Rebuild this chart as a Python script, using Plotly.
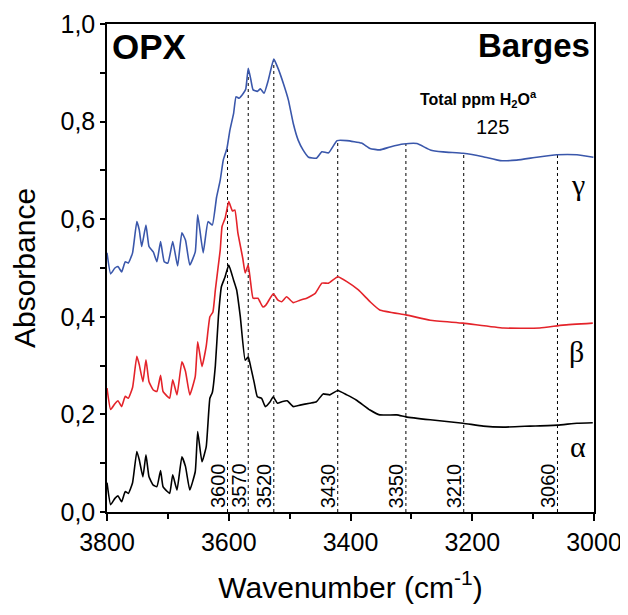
import numpy as np
import plotly.graph_objects as go

# ---------------- data ----------------
alpha_wn = [3800, 3794, 3787, 3782, 3776, 3770, 3765, 3758, 3751, 3747, 3741, 3736, 3731, 3724, 3718,
            3712, 3708, 3701, 3697, 3692, 3685, 3677, 3671, 3664, 3655, 3651, 3644, 3637, 3631, 3627,
            3622, 3617, 3612, 3606, 3600, 3592, 3587, 3581, 3573, 3568, 3564, 3558, 3553, 3546, 3540,
            3532, 3527, 3520, 3513, 3504, 3494, 3483, 3467, 3456, 3445, 3434, 3421, 3406, 3390, 3368,
            3352, 3324, 3309, 3269, 3215, 3182, 3149, 3105, 3060, 3028, 3002]
alpha_abs = [0.060, 0.015, 0.028, 0.033, 0.021, 0.042, 0.038, 0.060, 0.124, 0.107, 0.072, 0.117, 0.072, 0.055, 0.052,
             0.085, 0.052, 0.042, 0.038, 0.076, 0.045, 0.113, 0.093, 0.045, 0.083, 0.165, 0.103, 0.134, 0.233, 0.245,
             0.300, 0.400, 0.462, 0.482, 0.506, 0.475, 0.455, 0.400, 0.311, 0.318, 0.298, 0.264, 0.236, 0.233, 0.216,
             0.226, 0.236, 0.223, 0.226, 0.228, 0.216, 0.219, 0.223, 0.226, 0.242, 0.240, 0.249, 0.240, 0.229, 0.209,
             0.199, 0.199, 0.195, 0.189, 0.182, 0.176, 0.174, 0.176, 0.178, 0.182, 0.183]

beta_wn = [3800, 3794, 3787, 3782, 3776, 3770, 3765, 3758, 3751, 3747, 3741, 3736, 3731, 3724, 3718,
           3712, 3708, 3701, 3697, 3692, 3685, 3677, 3671, 3664, 3655, 3651, 3644, 3637, 3631, 3626,
           3622, 3618, 3614, 3611, 3606, 3600, 3594, 3590, 3585, 3577, 3573, 3568, 3564, 3560, 3552,
           3544, 3539, 3527, 3519, 3513, 3505, 3494, 3483, 3472, 3458, 3447, 3436, 3421, 3406, 3387,
           3368, 3352, 3309, 3269, 3215, 3149, 3089, 3051, 3002]
beta_abs = [0.254, 0.210, 0.222, 0.228, 0.216, 0.237, 0.233, 0.255, 0.319, 0.302, 0.267, 0.312, 0.267, 0.250, 0.247,
            0.280, 0.247, 0.237, 0.233, 0.271, 0.240, 0.308, 0.288, 0.240, 0.278, 0.349, 0.298, 0.340, 0.400, 0.410,
            0.455, 0.496, 0.537, 0.585, 0.602, 0.636, 0.617, 0.619, 0.572, 0.520, 0.490, 0.506, 0.470, 0.438, 0.438,
            0.420, 0.424, 0.447, 0.434, 0.431, 0.441, 0.429, 0.434, 0.438, 0.448, 0.469, 0.469, 0.482, 0.472, 0.455,
            0.431, 0.414, 0.404, 0.393, 0.387, 0.377, 0.377, 0.383, 0.387]

gamma_wn = [3800, 3794, 3787, 3782, 3776, 3770, 3765, 3758, 3751, 3747, 3743, 3736, 3731, 3724, 3718,
            3712, 3706, 3700, 3692, 3684, 3677, 3671, 3664, 3655, 3651, 3642, 3634, 3627, 3620, 3614,
            3609, 3603, 3598, 3592, 3588, 3583, 3576, 3572, 3568, 3564, 3560, 3553, 3548, 3542, 3535,
            3526, 3519, 3510, 3502, 3494, 3486, 3478, 3469, 3456, 3447, 3436, 3422, 3406, 3382, 3368,
            3352, 3335, 3313, 3291, 3269, 3248, 3215, 3182, 3154, 3127, 3094, 3061, 3028, 3001]
gamma_abs = [0.531, 0.488, 0.500, 0.503, 0.492, 0.513, 0.510, 0.531, 0.595, 0.578, 0.544, 0.588, 0.544, 0.533, 0.513,
             0.554, 0.513, 0.510, 0.554, 0.504, 0.572, 0.557, 0.506, 0.533, 0.609, 0.531, 0.595, 0.588, 0.645, 0.680,
             0.721, 0.745, 0.783, 0.817, 0.851, 0.848, 0.858, 0.867, 0.909, 0.888, 0.865, 0.862, 0.867, 0.858, 0.885,
             0.928, 0.909, 0.877, 0.844, 0.796, 0.762, 0.742, 0.727, 0.725, 0.738, 0.736, 0.761, 0.761, 0.756, 0.745,
             0.742, 0.748, 0.754, 0.755, 0.742, 0.738, 0.735, 0.728, 0.720, 0.721, 0.727, 0.732, 0.732, 0.727]

peak_pos = [3602, 3568, 3526, 3421, 3309, 3214, 3060]
peak_labels = ["3600", "3570", "3520", "3430", "3350", "3210", "3060"]

x_ticks = [3800, 3600, 3400, 3200, 3000]
x_ticktext = ["3800", "3600", "3400", "3200", "3000"]
x_minor = [3700, 3500, 3300, 3100]
y_ticks = [0.0, 0.2, 0.4, 0.6, 0.8, 1.0]
y_ticktext = ["0,0", "0,2", "0,4", "0,6", "0,8", "1,0"]
y_minor = [0.1, 0.3, 0.5, 0.7, 0.9]

FONT = "Liberation Sans, Arial, sans-serif"
SERIF = "Liberation Serif, Times New Roman, serif"

fig = go.Figure()

# dotted guide lines from the axis up to the gamma curve
g_order = np.argsort(gamma_wn)
for p in peak_pos:
    top = float(np.interp(p, np.array(gamma_wn)[g_order], np.array(gamma_abs)[g_order]))
    fig.add_trace(go.Scatter(x=[p, p], y=[0, top], mode="lines",
                             line=dict(color="black", width=1, dash="dot"),
                             showlegend=False, hoverinfo="skip"))

for wn, ab, col, name in [(alpha_wn, alpha_abs, "#000000", "α"),
                          (beta_wn, beta_abs, "#e4232a", "β"),
                          (gamma_wn, gamma_abs, "#3a57ab", "γ")]:
    fig.add_trace(go.Scatter(x=wn, y=ab, mode="lines", name=name,
                             line=dict(color=col, width=1.6, shape="spline", smoothing=0.4),
                             showlegend=False))

ann = []
for p, t in zip(peak_pos, peak_labels):
    ann.append(dict(x=p, y=0.004, xref="x", yref="y", text=t, textangle=-90,
                    showarrow=False, xanchor="right", yanchor="bottom", xshift=3,
                    font=dict(family=FONT, size=20, color="black")))

ann += [
    dict(x=3795, y=0.998, text="<b>OPX</b>", xanchor="left", yanchor="top",
         font=dict(family=FONT, size=35, color="black")),
    dict(x=3004, y=0.998, text="<b>Barges</b>", xanchor="right", yanchor="top",
         font=dict(family=FONT, size=33, color="black")),
    dict(x=3190, y=0.846, text="<b>Total ppm H<sub>2</sub>O<sup>a</sup></b>", xanchor="center", yanchor="middle",
         font=dict(family=FONT, size=16, color="black")),
    dict(x=3166, y=0.789, text="125", xanchor="center", yanchor="middle",
         font=dict(family=FONT, size=20, color="black")),
    dict(x=3026, y=0.672, text="γ", xanchor="center", yanchor="middle",
         font=dict(family=SERIF, size=30, color="black")),
    dict(x=3028, y=0.328, text="β", xanchor="center", yanchor="middle",
         font=dict(family=SERIF, size=30, color="black")),
    dict(x=3026, y=0.135, text="α", xanchor="center", yanchor="middle",
         font=dict(family=SERIF, size=30, color="black")),
]
for a in ann:
    a.setdefault("xref", "x")
    a.setdefault("yref", "y")
    a.setdefault("showarrow", False)

# the page body adds an 8 px offset, so the figure is laid out 8 px smaller
fig.update_layout(
    width=620, height=607,
    margin=dict(l=99, r=34, t=16, b=103),
    paper_bgcolor="white", plot_bgcolor="white",
    font=dict(family=FONT, color="black"),
    annotations=ann,
    showlegend=False,
)
fig.update_xaxes(
    range=[3800, 3000], autorange=False,
    tickmode="array", tickvals=x_ticks, ticktext=x_ticktext,
    ticks="outside", ticklen=7, tickwidth=1.5, tickcolor="black",
    minor=dict(tickmode="array", tickvals=x_minor, ticks="outside", ticklen=5, tickwidth=1.5, tickcolor="black"),
    showline=True, linecolor="black", linewidth=1.5, mirror=True,
    showgrid=False, zeroline=False,
    tickfont=dict(family=FONT, size=25, color="black"),
    title=dict(text="Wavenumber (cm<sup>-1</sup>)", font=dict(family=FONT, size=30, color="black"), standoff=22),
    automargin=False,
)
fig.update_yaxes(
    range=[0, 1.0], autorange=False,
    tickmode="array", tickvals=y_ticks, ticktext=y_ticktext,
    ticks="outside", ticklen=5, tickwidth=1.5, tickcolor="black",
    minor=dict(tickmode="array", tickvals=y_minor, ticks="outside", ticklen=5, tickwidth=1.5, tickcolor="black"),
    showline=True, linecolor="black", linewidth=1.5, mirror=True,
    showgrid=False, zeroline=False,
    tickfont=dict(family=FONT, size=25, color="black"),
    title=dict(text="Absorbance", font=dict(family=FONT, size=30, color="black"), standoff=27),
    automargin=False,
)

fig.write_html("out.html")
